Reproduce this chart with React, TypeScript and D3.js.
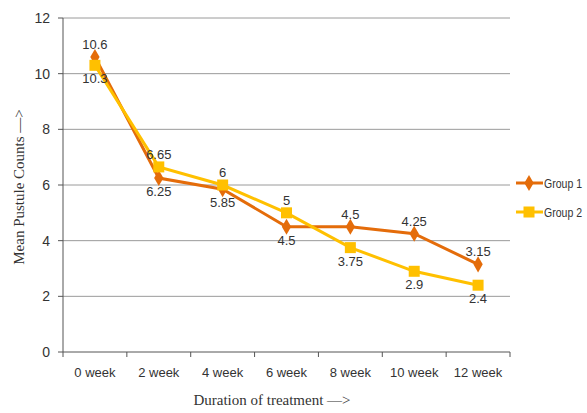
import React from "react";
import * as d3 from "d3";

const categories = ["0 week", "2 week", "4 week", "6 week", "8 week", "10 week", "12 week"];
const group1 = [10.6, 6.25, 5.85, 4.5, 4.5, 4.25, 3.15];
const group2 = [10.3, 6.65, 6, 5, 3.75, 2.9, 2.4];
const group1LabelPos = ["above", "below", "below", "below", "above", "above", "above"];
const group2LabelPos = ["below", "above", "above", "above", "below", "below", "below"];
const yTicks = [0, 2, 4, 6, 8, 10, 12];
const seriesNames = ["Group 1", "Group 2"];

const W = 587;
const H = 413;
const M = { left: 63, right: 510, top: 18, bottom: 352 };
const C1 = "#E46C0A";
const C2 = "#FFC000";

export default function App() {
  const x = d3.scaleBand<string>().domain(categories).range([M.left, M.right]);
  const y = d3.scaleLinear().domain([0, 12]).range([M.bottom, M.top]);
  const cx = (c: string) => (x(c) as number) + x.bandwidth() / 2;
  const line = d3
    .line<number>()
    .x((_, i) => cx(categories[i]))
    .y((d) => y(d));
  const diamond = d3.symbol().type(d3.symbolDiamond).size(75)() as string;
  const sans = "'Liberation Sans', 'DejaVu Sans', sans-serif";
  const serif = "'Liberation Serif', 'DejaVu Serif', serif";

  const label = (v: number, i: number, pos: string) => (
    <text
      key={"l" + i + v + pos}
      x={cx(categories[i])}
      y={pos === "above" ? y(v) - 8 : y(v) + 18}
      textAnchor="middle"
      fontFamily={sans}
      fontSize={13}
      fill="#333"
    >
      {String(v)}
    </text>
  );

  return (
    <svg
      width={W}
      height={H}
      style={{ position: "absolute", left: 0, top: 0, background: "#fff" }}
    >
      {yTicks.map((t) => (
        <g key={t}>
          {t > 0 && (
            <line x1={M.left} x2={M.right} y1={y(t)} y2={y(t)} stroke="#9a9a9a" strokeWidth={1} />
          )}
          <line x1={M.left - 5} x2={M.left} y1={y(t)} y2={y(t)} stroke="#555" />
          <text
            x={M.left - 13}
            y={y(t) + 5}
            textAnchor="end"
            fontFamily={sans}
            fontSize={14}
            fill="#333"
          >
            {t}
          </text>
        </g>
      ))}
      <line x1={M.left} x2={M.left} y1={M.top} y2={M.bottom} stroke="#555" />
      <line x1={M.left} x2={M.right} y1={M.bottom} y2={M.bottom} stroke="#555" />
      {categories.map((c, i) => (
        <g key={c}>
          <line
            x1={(x(c) as number) + x.bandwidth()}
            x2={(x(c) as number) + x.bandwidth()}
            y1={M.bottom}
            y2={M.bottom + 5}
            stroke="#555"
          />
          {i === 0 && <line x1={M.left} x2={M.left} y1={M.bottom} y2={M.bottom + 5} stroke="#555" />}
          <text
            x={cx(c)}
            y={M.bottom + 25}
            textAnchor="middle"
            fontFamily={sans}
            fontSize={13}
            fill="#333"
          >
            {c}
          </text>
        </g>
      ))}

      <path d={line(group1) as string} fill="none" stroke={C1} strokeWidth={3} />
      {group1.map((v, i) => (
        <path key={"m1" + i} d={diamond} transform={`translate(${cx(categories[i])},${y(v)})`} fill={C1} />
      ))}
      <path d={line(group2) as string} fill="none" stroke={C2} strokeWidth={3} />
      {group2.map((v, i) => (
        <rect key={"m2" + i} x={cx(categories[i]) - 5.5} y={y(v) - 5.5} width={11} height={11} fill={C2} />
      ))}
      {group1.map((v, i) => label(v, i, group1LabelPos[i]))}
      {group2.map((v, i) => label(v, i, group2LabelPos[i]))}

      {/* legend */}
      {seriesNames.map((n, i) => {
        const ly = 183 + i * 29;
        const col = i === 0 ? C1 : C2;
        return (
          <g key={n}>
            <line x1={516} x2={543} y1={ly} y2={ly} stroke={col} strokeWidth={3} />
            {i === 0 ? (
              <path d={diamond} transform={`translate(529,${ly})`} fill={col} />
            ) : (
              <rect x={523.5} y={ly - 5.5} width={11} height={11} fill={col} />
            )}
            <text
              x={544}
              y={ly + 4.5}
              fontFamily={sans}
              fontSize={12}
              fill="#333"
              textLength={38}
              lengthAdjust="spacingAndGlyphs"
            >
              {n}
            </text>
          </g>
        );
      })}

      <text
        transform={`translate(24,${(M.top + M.bottom) / 2 + 2}) rotate(-90)`}
        textAnchor="middle"
        fontFamily={serif}
        fontSize={15}
        fill="#333"
      >
        Mean Pustule Counts —&gt;
      </text>
      <text x={272} y={405} textAnchor="middle" fontFamily={serif} fontSize={15} fill="#333">
        Duration of treatment —&gt;
      </text>
    </svg>
  );
}
